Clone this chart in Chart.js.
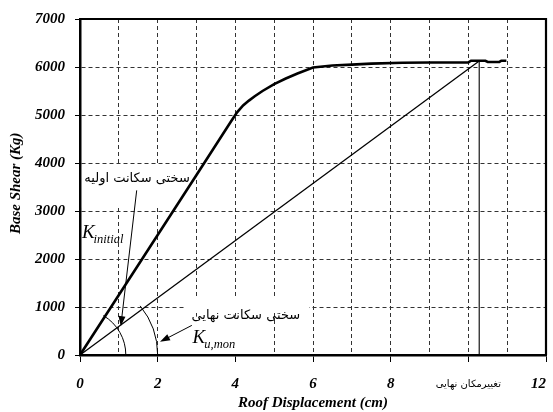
<!DOCTYPE html>
<html><head><meta charset="utf-8">
<script src="https://cdn.jsdelivr.net/npm/chart.js@4"></script>
<style>html,body{margin:0;padding:0;background:#fff;}canvas{display:block;}</style>
</head><body>
<canvas id="c" width="553" height="412"></canvas>
<script>
// ---- data ----
const curveX = [0, 1, 2, 3, 3.9, 4.05, 4.2, 4.35, 4.5, 4.7, 5.0, 5.3, 5.6, 6.0, 6.5, 7.0, 7.5, 8.3, 9.0, 10.0, 10.07, 10.44, 10.5, 10.8, 10.85, 10.98];
const curveY = [0, 1250, 2500, 3750, 4880, 5060, 5200, 5300, 5390, 5500, 5645, 5760, 5865, 5990, 6030, 6050, 6070, 6090, 6095, 6095, 6130, 6130, 6105, 6105, 6130, 6130];
const secantX = [0, 10.28];
const secantY = [0, 6125];
const ultimateX = [10.28, 10.28];
const ultimateY = [6125, 0];
const xTickValues = [0, 2, 4, 6, 8, 10, 12];
const xTickLabels = ['0', '2', '4', '6', '8', 'تغییرمکان نهایی', '12'];
const yTickValues = [0, 1000, 2000, 3000, 4000, 5000, 6000, 7000];
const xTitle = 'Roof Displacement (cm)';
const yTitle = 'Base Shear (Kg)';
const labelInitial = 'سختی سکانت اولیه';
const labelUltimate = 'سختی سکانت نهایی';
const kInitialSub = 'initial';
const kUltimateSub = 'u,mon';

const toPts = (xs, ys) => xs.map((x, i) => ({x, y: ys[i]}));
const serifBI = {family: 'Liberation Serif', size: 15, style: 'italic', weight: 'bold'};

const annot = {
  id: 'annot',
  beforeDatasetsDraw(chart) {
    const {ctx, scales: {x, y}} = chart;
    ctx.save();
    ctx.fillStyle = '#fff';
    // text backgrounds (data units)
    const boxes = [[0.05, 3950, 2.88, 3070], [2.7, 1170, 5.9, 880], [2.78, 800, 4.75, 40]];
    boxes.forEach(b => {
      const x1 = x.getPixelForValue(b[0]), y1 = y.getPixelForValue(b[1]);
      const x2 = x.getPixelForValue(b[2]), y2 = y.getPixelForValue(b[3]);
      ctx.fillRect(x1, y1, x2 - x1, y2 - y1);
    });
    ctx.restore();
  },
  afterDatasetsDraw(chart) {
    const {ctx, scales: {x, y}} = chart;
    const ox = x.getPixelForValue(0), oy = y.getPixelForValue(0);
    const ang = (dx, dy) => Math.atan2(y.getPixelForValue(dy) - oy, x.getPixelForValue(dx) - ox);
    ctx.save();
    ctx.strokeStyle = '#000'; ctx.fillStyle = '#000'; ctx.lineWidth = 1;
    // arcs
    const a1 = ang(curveX[3], curveY[3]);
    const a2 = ang(secantX[1], secantY[1]);
    ctx.beginPath();
    ctx.arc(ox, oy, x.getPixelForValue(1.18) - ox, a1 - 0.04, 0);
    ctx.stroke();
    ctx.beginPath();
    ctx.arc(ox, oy, x.getPixelForValue(2.0) - ox, a2 - 0.05, 0);
    ctx.stroke();
    // arrows
    const arrow = (dx1, dy1, dx2, dy2) => {
      const x1 = x.getPixelForValue(dx1), y1 = y.getPixelForValue(dy1);
      const x2 = x.getPixelForValue(dx2), y2 = y.getPixelForValue(dy2);
      const t = Math.atan2(y2 - y1, x2 - x1);
      const L = 10, W = 3.5;
      ctx.beginPath(); ctx.moveTo(x1, y1); ctx.lineTo(x2 - L * 0.8 * Math.cos(t), y2 - L * 0.8 * Math.sin(t)); ctx.stroke();
      ctx.beginPath();
      ctx.moveTo(x2, y2);
      ctx.lineTo(x2 - L * Math.cos(t) + W * Math.sin(t), y2 - L * Math.sin(t) - W * Math.cos(t));
      ctx.lineTo(x2 - L * Math.cos(t) - W * Math.sin(t), y2 - L * Math.sin(t) + W * Math.cos(t));
      ctx.closePath(); ctx.fill();
    };
    arrow(1.46, 3430, 1.05, 600);
    arrow(2.88, 617, 2.06, 274);
    // Persian labels
    ctx.direction = 'rtl';
    ctx.textAlign = 'center'; ctx.textBaseline = 'middle';
    ctx.font = '13px "DejaVu Sans"';
    ctx.fillText(labelInitial, x.getPixelForValue(1.47), y.getPixelForValue(3683));
    ctx.fillText(labelUltimate, x.getPixelForValue(4.27), y.getPixelForValue(823));
    ctx.direction = 'ltr';
    // K labels
    ctx.textAlign = 'left'; ctx.textBaseline = 'alphabetic';
    const kLabel = (dx, dy, sub) => {
      const px = x.getPixelForValue(dx), py = y.getPixelForValue(dy);
      ctx.font = 'italic 19px "Liberation Serif"';
      ctx.fillText('K', px, py);
      const w = ctx.measureText('K').width;
      ctx.font = 'italic 12.5px "Liberation Serif"';
      ctx.fillText(sub, px + w - 1, py + 5);
    };
    kLabel(0.05, 2428, kInitialSub);
    kLabel(2.9, 247, kUltimateSub);
    ctx.restore();
  },
  afterDraw(chart) {
    const {ctx, chartArea: a} = chart;
    ctx.save();
    ctx.strokeStyle = '#000'; ctx.lineWidth = 2.2;
    ctx.beginPath();
    ctx.moveTo(a.left, a.top); ctx.lineTo(a.right, a.top); ctx.lineTo(a.right, a.bottom);
    ctx.stroke();
    ctx.restore();
  }
};

new Chart(document.getElementById('c'), {
  type: 'scatter',
  data: {
    datasets: [
      {data: toPts(curveX, curveY), showLine: true, borderColor: '#000', borderWidth: 2.6, pointRadius: 0, tension: 0},
      {data: toPts(secantX, secantY), showLine: true, borderColor: '#000', borderWidth: 1.3, pointRadius: 0},
      {data: toPts(ultimateX, ultimateY), showLine: true, borderColor: '#000', borderWidth: 1.1, pointRadius: 0}
    ]
  },
  options: {
    responsive: false, animation: false, devicePixelRatio: 1,
    layout: {padding: {top: 15, right: 7, left: 0, bottom: 0}},
    plugins: {legend: {display: false}, tooltip: {enabled: false}},
    scales: {
      x: {
        type: 'linear', min: 0, max: 12,
        ticks: {
          stepSize: 1, autoSkip: false, maxRotation: 0, color: '#000', padding: 13,
          callback: (v) => {
            const i = xTickValues.indexOf(v);
            if (i < 0) return '';
            return v === 12 ? xTickLabels[i] + '\u2002\u2002' : xTickLabels[i];
          },
          font: (c) => (c.tick && c.tick.value === 10) ? {family: 'DejaVu Sans', size: 10, lineHeight: 1.8} : serifBI
        },
        grid: {
          color: '#333', lineWidth: 1, tickLength: 7,
          tickColor: (c) => (c.tick && xTickValues.includes(c.tick.value)) ? '#000' : 'rgba(0,0,0,0)'
        },
        border: {display: true, color: '#000', width: 2.5, dash: [4, 3]},
        title: {display: true, text: xTitle, color: '#000', font: serifBI, padding: {top: 0, bottom: 0}},
        afterFit: (s) => { s.height = 57; s.paddingLeft = 0; s.paddingRight = 0; }
      },
      y: {
        type: 'linear', min: 0, max: 7000,
        afterBuildTicks: (s) => { s.ticks = yTickValues.map(v => ({value: v})); },
        ticks: {color: '#000', padding: 10, font: serifBI, callback: (v) => String(v)},
        grid: {color: '#333', lineWidth: 1, tickLength: 5, tickColor: '#000'},
        border: {display: true, color: '#000', width: 2.5, dash: [4, 3]},
        title: {display: true, text: '\u2002' + yTitle, color: '#000', font: serifBI, padding: {top: 7, bottom: 0}},
        afterFit: (s) => { s.width = 80; }
      }
    }
  },
  plugins: [annot]
});
</script>
</body></html>
